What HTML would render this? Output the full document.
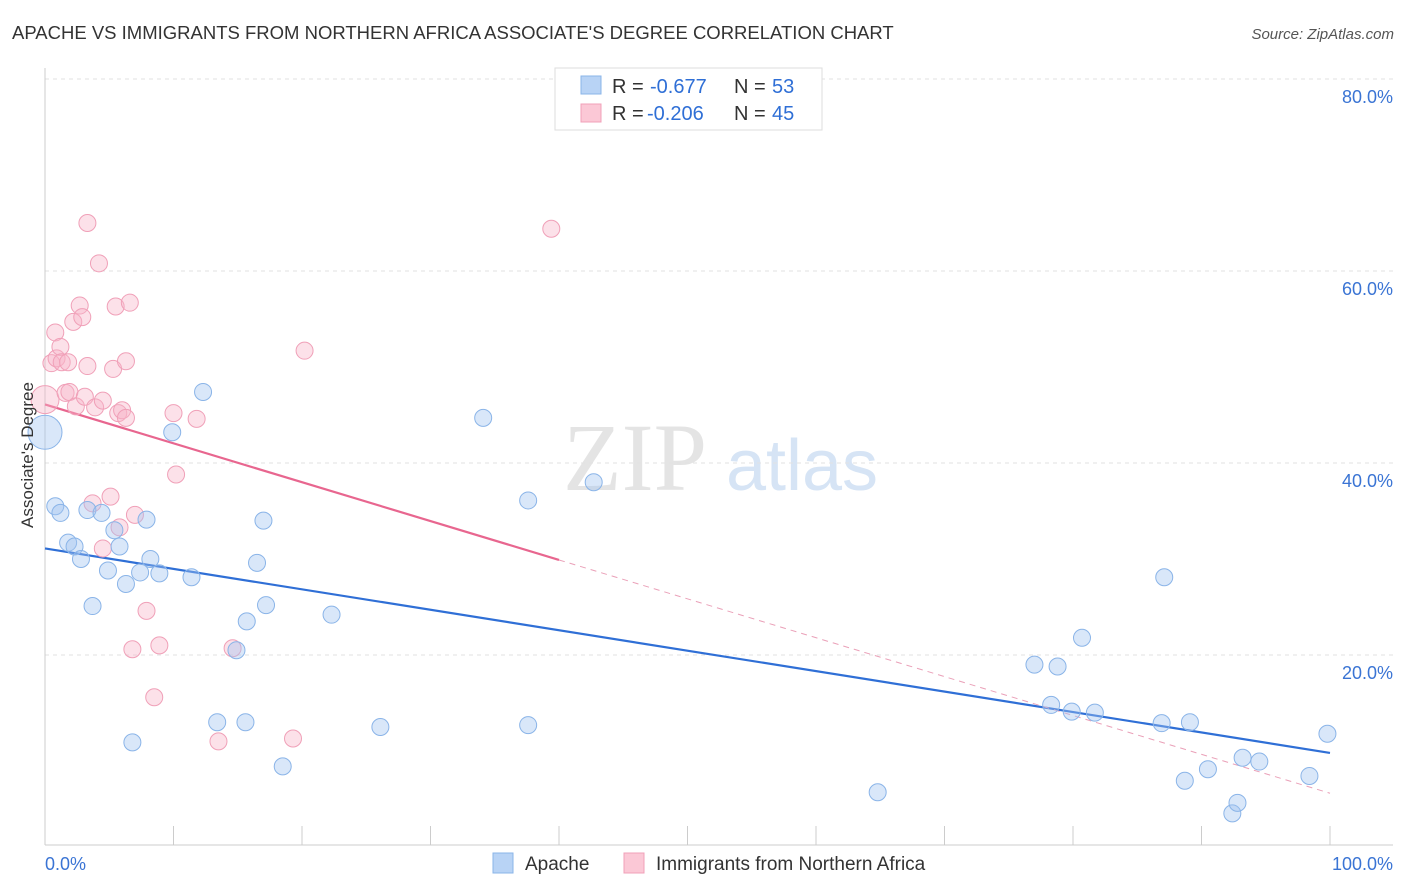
<!DOCTYPE html>
<html><head><meta charset="utf-8"><style>
body{margin:0;background:#fff;font-family:"Liberation Sans",sans-serif;}
svg{display:block}
</style></head><body>
<svg id="chart" width="1406" height="892" viewBox="0 0 1406 892" xmlns="http://www.w3.org/2000/svg">
<text x="12" y="39" font-size="18.5" fill="#333">APACHE VS IMMIGRANTS FROM NORTHERN AFRICA ASSOCIATE'S DEGREE CORRELATION CHART</text>
<text x="1394" y="39" font-size="15" fill="#555" font-style="italic" text-anchor="end">Source: ZipAtlas.com</text>
<g>
<text x="635" y="490" font-size="96" fill="#e4e4e4" text-anchor="middle" font-family="Liberation Serif,serif">ZIP</text>
<text x="802" y="490" font-size="72" fill="#d6e4f5" text-anchor="middle">atlas</text>
</g>
<g id="grid"></g>
<g id="axes"></g>
<g id="lines"></g>
<g id="points"></g>
<text transform="translate(33,455) rotate(-90)" font-size="17" fill="#333" text-anchor="middle">Associate's Degree</text>
<g font-size="20">
<rect x="555" y="68" width="267" height="62" fill="#fff" stroke="#ddd"/>
<rect x="581" y="76" width="20" height="18" fill="#b8d3f5" stroke="#8ab4e8"/>
<text x="612" y="93" fill="#333">R =</text>
<text x="650" y="93" fill="#2f6fd6">-0.677</text>
<text x="734" y="93" fill="#333">N =</text>
<text x="772" y="93" fill="#2f6fd6">53</text>
<rect x="581" y="104" width="20" height="18" fill="#fbc8d6" stroke="#f0a0b8"/>
<text x="612" y="120" fill="#333">R =</text>
<text x="647" y="120" fill="#2f6fd6">-0.206</text>
<text x="734" y="120" fill="#333">N =</text>
<text x="772" y="120" fill="#2f6fd6">45</text>
</g>
<g>
<rect x="493" y="853" width="20" height="20" fill="#b8d3f5" stroke="#8ab4e8"/>
<text x="525" y="870" font-size="19" fill="#333">Apache</text>
<rect x="624" y="853" width="20" height="20" fill="#fbc8d6" stroke="#f0a0b8"/>
<text x="656" y="870" font-size="19" fill="#333">Immigrants from Northern Africa</text>
</g>
</svg>
<script>
const yTicks=[20,40,60,80];
const yTickLabels=["20.0%","40.0%","60.0%","80.0%"];
const xTickLabels=["0.0%","100.0%"];
const apacheX=[0,0.8,1.2,1.8,2.3,2.8,3.3,3.7,4.4,4.9,5.4,5.8,6.3,6.8,7.4,7.9,8.2,8.9,9.9,11.4,12.3,13.4,14.9,15.6,15.7,16.5,17.0,17.2,18.5,22.3,26.1,34.1,37.6,37.6,42.7,64.8,77.0,78.3,78.8,79.9,80.7,81.7,86.9,87.1,88.7,89.1,90.5,92.4,92.8,93.2,94.5,98.4,99.8];
const apacheY=[43.2,35.5,34.8,31.7,31.3,30.0,35.1,25.1,34.8,28.8,33.0,31.3,27.4,10.9,28.6,34.1,30.0,28.5,43.2,28.1,47.4,13.0,20.5,13.0,23.5,29.6,34.0,25.2,8.4,24.2,12.5,44.7,36.1,12.7,38.0,5.7,19.0,14.8,18.8,14.1,21.8,14.0,12.9,28.1,6.9,13.0,8.1,3.5,4.6,9.3,8.9,7.4,11.8];
const nafX=[0,0.5,0.8,0.9,1.2,1.3,1.8,1.6,1.9,2.2,2.4,2.7,2.9,3.1,3.3,3.3,3.7,3.9,4.2,4.5,4.5,5.1,5.3,5.5,5.7,5.8,6.0,6.3,6.3,6.6,6.8,7.0,7.9,8.5,8.9,10.0,10.2,11.8,13.5,14.6,19.3,20.2,39.4];
const nafY=[46.6,50.4,53.6,50.9,52.1,50.5,50.5,47.3,47.4,54.7,45.9,56.4,55.2,46.9,50.1,65.0,35.8,45.8,60.8,46.5,31.1,36.5,49.8,56.3,45.2,33.3,45.5,50.6,44.7,56.7,20.6,34.6,24.6,15.6,21.0,45.2,38.8,44.6,11.0,20.7,11.3,51.7,64.4];
const apacheTrend=[31.1,9.8];
const nafTrend=[46.1,5.6];
const nafSolidEnd=40;
const NS="http://www.w3.org/2000/svg";
const sx=v=>45+v*12.85, sy=v=>847-v*9.6;
function mk(tag,attrs,parent){const e=document.createElementNS(NS,tag);for(const k in attrs)e.setAttribute(k,attrs[k]);document.getElementById(parent).appendChild(e);return e;}
yTicks.forEach((t,i)=>{
 const g=mk('line',{x1:45,x2:1393,y1:sy(t),y2:sy(t),stroke:'#e2e2e2','stroke-dasharray':'4,4'},'grid');
 
 
 const tx=mk('text',{x:1393,y:sy(t)+24,'font-size':18,fill:'#3a74d4','text-anchor':'end'},'axes');
 tx.textContent=yTickLabels[i];
 
 
});
mk('line',{x1:45,x2:1393,y1:845,y2:845,stroke:'#ccc'},'axes');
mk('line',{x1:45,x2:45,y1:68,y2:845,stroke:'#ccc'},'axes');
for(let i=0;i<=10;i++){const l=mk('line',{x1:sx(i*10),x2:sx(i*10),y1:826,y2:845,stroke:'#ccc'},'axes');
 
 }
const xl0=mk('text',{x:45,y:870,'font-size':18,fill:'#3a74d4'},'axes');xl0.textContent=xTickLabels[0];


const xl1=mk('text',{x:1393,y:870,'font-size':18,fill:'#3a74d4','text-anchor':'end'},'axes');xl1.textContent=xTickLabels[1];


function pts(xs,ys,fill,stroke,name,bigR){xs.forEach((x,i)=>{const c=mk('circle',{cx:sx(x),cy:sy(ys[i]),r:(i===0?bigR:8.5),fill:fill,stroke:stroke,'stroke-width':1},'points');
 
 });}
pts(nafX,nafY,'rgba(248,180,200,0.4)','#f0a0b8','point-northern-africa',14);
pts(apacheX,apacheY,'rgba(160,196,240,0.4)','#8ab4e8','point-apache',17);
const tb=mk('line',{x1:sx(0),y1:sy(apacheTrend[0]),x2:sx(100),y2:sy(apacheTrend[1]),stroke:'#2f6fd6','stroke-width':2.2},'lines');


const pAt=x=>nafTrend[0]+(nafTrend[1]-nafTrend[0])*x/100;
const tp=mk('line',{x1:sx(0),y1:sy(pAt(0)),x2:sx(nafSolidEnd),y2:sy(pAt(nafSolidEnd)),stroke:'#e8668f','stroke-width':2.2},'lines');


const td=mk('line',{x1:sx(nafSolidEnd),y1:sy(pAt(nafSolidEnd)),x2:sx(100),y2:sy(pAt(100)),stroke:'#eaa0b8','stroke-width':1,'stroke-dasharray':'6,5'},'lines');


</script>
</body></html>
